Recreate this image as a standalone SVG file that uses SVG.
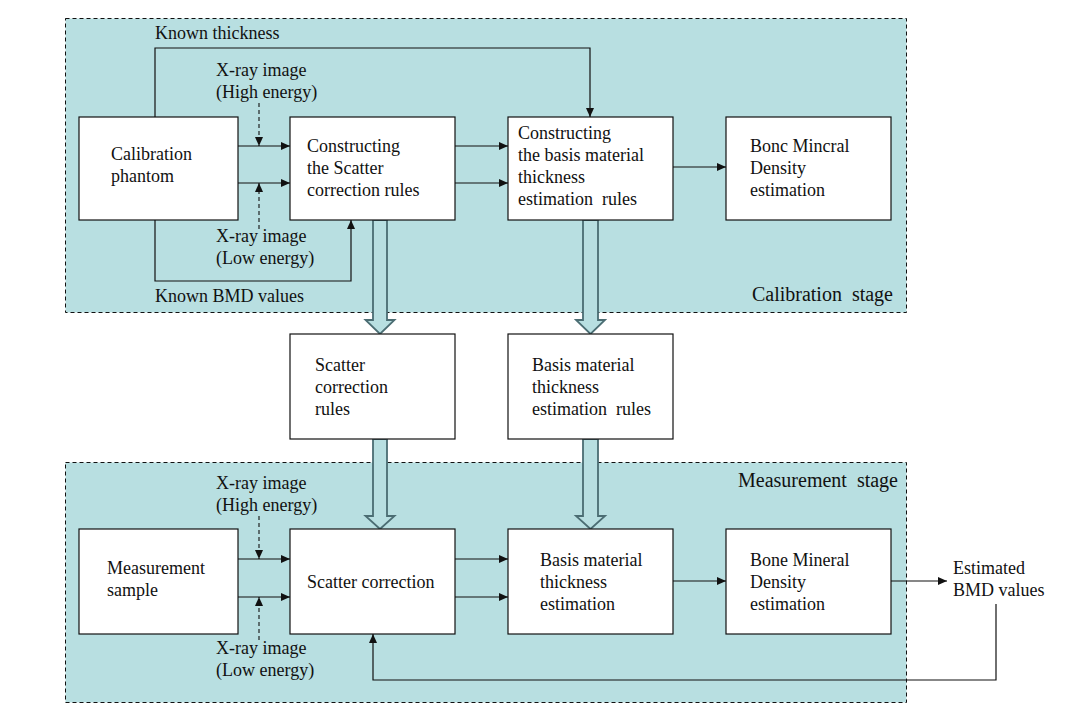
<svg xmlns="http://www.w3.org/2000/svg" width="1083" height="712" viewBox="0 0 1083 712">
<style>
  .stage{fill:#b8dfe1;stroke:#111;stroke-width:1;stroke-dasharray:4,3}
  .box{fill:#fff;stroke:#111;stroke-width:1.2}
  .t{font-family:"Liberation Serif","Times New Roman",serif;font-size:18px;fill:#111}
  .st{font-family:"Liberation Serif","Times New Roman",serif;font-size:20px;fill:#111}
  .ln{fill:none;stroke:#111;stroke-width:1.2}
  .dash{fill:none;stroke:#111;stroke-width:1.1;stroke-dasharray:4,3}
  .blk{fill:#b8dfe1;stroke:#4b6d73;stroke-width:1.8;stroke-linejoin:miter}
</style>
<defs>
  <marker id="ah" markerUnits="userSpaceOnUse" markerWidth="9" markerHeight="8" refX="9" refY="4" orient="auto">
    <path d="M0,0 L9,4 L0,8 z" fill="#111"/>
  </marker>
</defs>
<rect width="1083" height="712" fill="#fff"/>

<g id="calibration-stage">
  <rect class="stage" x="65.5" y="18.5" width="841" height="294"/>
  <text class="st" x="893" y="301" text-anchor="end" xml:space="preserve">Calibration  stage</text>
</g>
<g id="measurement-stage">
  <rect class="stage" x="65.5" y="462.5" width="841" height="240"/>
  <text class="st" x="898" y="487" text-anchor="end" xml:space="preserve">Measurement  stage</text>
</g>

<g id="connectors">
  <!-- known thickness -->
  <polyline class="ln" points="155,117 155,48 590,48 590,117" marker-end="url(#ah)"/>
  <!-- known BMD -->
  <polyline class="ln" points="155,220 155,281 351,281 351,220" marker-end="url(#ah)"/>
  <!-- calibration row -->
  <line class="ln" x1="238" y1="146" x2="290" y2="146" marker-end="url(#ah)"/>
  <line class="ln" x1="238" y1="183" x2="290" y2="183" marker-end="url(#ah)"/>
  <line class="dash" x1="259" y1="103" x2="259" y2="146" marker-end="url(#ah)"/>
  <line class="dash" x1="259" y1="229" x2="259" y2="183" marker-end="url(#ah)"/>
  <line class="ln" x1="455" y1="146" x2="508" y2="146" marker-end="url(#ah)"/>
  <line class="ln" x1="455" y1="183" x2="508" y2="183" marker-end="url(#ah)"/>
  <line class="ln" x1="673" y1="167" x2="726" y2="167" marker-end="url(#ah)"/>
  <!-- measurement row -->
  <line class="ln" x1="238" y1="559" x2="290" y2="559" marker-end="url(#ah)"/>
  <line class="ln" x1="238" y1="597" x2="290" y2="597" marker-end="url(#ah)"/>
  <line class="dash" x1="259" y1="516" x2="259" y2="559" marker-end="url(#ah)"/>
  <line class="dash" x1="259" y1="640" x2="259" y2="597" marker-end="url(#ah)"/>
  <line class="ln" x1="455" y1="559" x2="508" y2="559" marker-end="url(#ah)"/>
  <line class="ln" x1="455" y1="597" x2="508" y2="597" marker-end="url(#ah)"/>
  <line class="ln" x1="673" y1="581" x2="726" y2="581" marker-end="url(#ah)"/>
  <line class="ln" x1="891" y1="581" x2="947" y2="581" marker-end="url(#ah)"/>
  <!-- feedback -->
  <polyline class="ln" points="996,604 996,680 373,680 373,634" marker-end="url(#ah)"/>
  <!-- block arrows -->
  <polygon class="blk" points="373,220 387,220 387,320 394.5,320 380,334 365.5,320 373,320"/>
  <polygon class="blk" points="583,220 598,220 598,320 605,320 590.5,334 576,320 583,320"/>
  <polygon class="blk" points="373,439 387,439 387,516 394.5,516 380,529 365.5,516 373,516"/>
  <polygon class="blk" points="583,439 598,439 598,516 605,516 590.5,529 576,516 583,516"/>
</g>

<g id="labels">
  <text class="t" x="155" y="39">Known thickness</text>
  <text class="t" x="155" y="302">Known BMD values</text>
  <text class="t" x="216" y="76">X-ray image</text>
  <text class="t" x="216" y="98">(High energy)</text>
  <text class="t" x="216" y="242">X-ray image</text>
  <text class="t" x="216" y="264">(Low energy)</text>
  <text class="t" x="216" y="489">X-ray image</text>
  <text class="t" x="216" y="511">(High energy)</text>
  <text class="t" x="216" y="654">X-ray image</text>
  <text class="t" x="216" y="676">(Low energy)</text>
  <text class="t" x="953" y="574">Estimated</text>
  <text class="t" x="953" y="596">BMD values</text>
</g>

<g id="calibration-phantom">
  <rect class="box" x="79" y="117" width="159" height="103"/>
  <text class="t" x="111" y="160">Calibration</text>
  <text class="t" x="111" y="182">phantom</text>
</g>
<g id="constructing-scatter-rules">
  <rect class="box" x="290" y="117" width="165" height="103"/>
  <text class="t" x="307" y="152">Constructing</text>
  <text class="t" x="307" y="174">the Scatter</text>
  <text class="t" x="307" y="196">correction rules</text>
</g>
<g id="constructing-basis-rules">
  <rect class="box" x="508" y="117" width="165" height="103"/>
  <text class="t" x="518" y="139">Constructing</text>
  <text class="t" x="518" y="161">the basis material</text>
  <text class="t" x="518" y="183">thickness</text>
  <text class="t" x="518" y="205" xml:space="preserve">estimation  rules</text>
</g>
<g id="bmd-estimation-calibration">
  <rect class="box" x="726" y="117" width="165" height="103"/>
  <text class="t" x="750" y="152">Bonc Mincral</text>
  <text class="t" x="750" y="174">Density</text>
  <text class="t" x="750" y="196">estimation</text>
</g>
<g id="scatter-correction-rules">
  <rect class="box" x="290" y="334" width="165" height="105"/>
  <text class="t" x="315" y="371">Scatter</text>
  <text class="t" x="315" y="393">correction</text>
  <text class="t" x="315" y="415">rules</text>
</g>
<g id="basis-material-rules">
  <rect class="box" x="508" y="334" width="165" height="105"/>
  <text class="t" x="532" y="371">Basis material</text>
  <text class="t" x="532" y="393">thickness</text>
  <text class="t" x="532" y="415" xml:space="preserve">estimation  rules</text>
</g>
<g id="measurement-sample">
  <rect class="box" x="79" y="529" width="159" height="105"/>
  <text class="t" x="107" y="574">Measurement</text>
  <text class="t" x="107" y="596">sample</text>
</g>
<g id="scatter-correction">
  <rect class="box" x="290" y="529" width="165" height="105"/>
  <text class="t" x="307" y="588">Scatter correction</text>
</g>
<g id="basis-material-estimation">
  <rect class="box" x="508" y="529" width="165" height="105"/>
  <text class="t" x="540" y="566">Basis material</text>
  <text class="t" x="540" y="588">thickness</text>
  <text class="t" x="540" y="610">estimation</text>
</g>
<g id="bmd-estimation-measurement">
  <rect class="box" x="726" y="529" width="165" height="105"/>
  <text class="t" x="750" y="566">Bone Mineral</text>
  <text class="t" x="750" y="588">Density</text>
  <text class="t" x="750" y="610">estimation</text>
</g>
</svg>
